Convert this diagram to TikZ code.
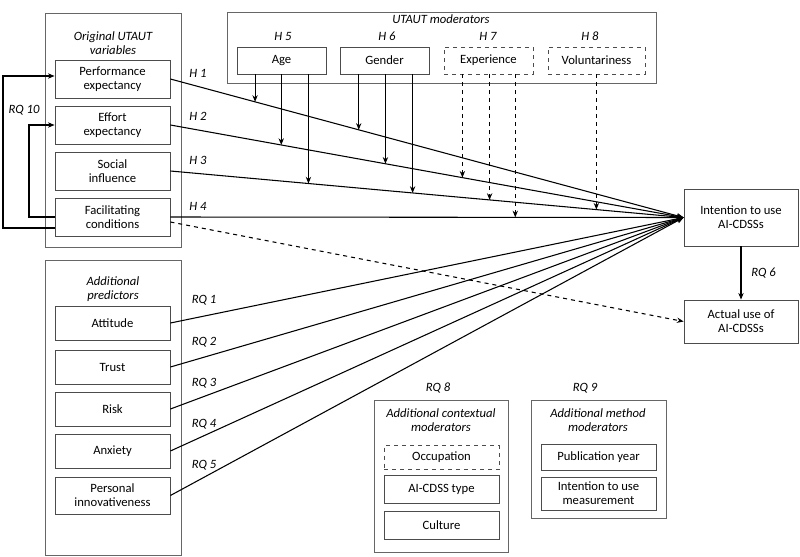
\documentclass[tikz,border=0pt]{standalone}
\usepackage{fontspec}
\setmainfont{Carlito}
\usetikzlibrary{arrows.meta}
\begin{document}
\begin{tikzpicture}[x=0.75pt,y=-0.75pt,font=\fontsize{9.5}{10.5}\selectfont,
  grp/.style={draw=black!60,line width=0.6pt},
  bx/.style={draw=black!70,line width=0.6pt,align=center,inner sep=0pt},
  dbx/.style={bx,dashed},
  lab/.style={font=\fontsize{9.5}{10.5}\selectfont\itshape,align=center},
  ar/.style={-{Stealth[length=5pt,width=4pt]},line width=0.8pt},
  dar/.style={ar,dashed}]
\useasboundingbox (0,0) rectangle (800,557);
% groups
\draw[grp] (45,13) rectangle (181,247);
\node[lab] at (113,43) {Original UTAUT\\variables};
\draw[grp] (227,12) rectangle (656,83);
\node[lab] at (441,19) {UTAUT moderators};
\draw[grp] (45,260) rectangle (181,555);
\node[lab] at (113,289) {Additional\\predictors};
\draw[grp] (374,400) rectangle (508,552);
\node[lab] at (441,420) {Additional contextual\\moderators};
\draw[grp] (531,400) rectangle (666,518);
\node[lab] at (598,420) {Additional method\\moderators};
% UTAUT vars
\node[bx,minimum width=86.25pt,minimum height=28.5pt] (pe) at (112.5,79) {Performance\\expectancy};
\node[bx,minimum width=86.25pt,minimum height=28.5pt] (ee) at (112.5,125) {Effort\\expectancy};
\node[bx,minimum width=86.25pt,minimum height=28.5pt] (si) at (112.5,171) {Social\\influence};
\node[bx,minimum width=86.25pt,minimum height=28.5pt] (fc) at (112.5,217) {Facilitating\\conditions};
% moderators
\node[bx,minimum width=66.75pt,minimum height=20.25pt] (age) at (281.5,60.5) {Age};
\node[bx,minimum width=66.75pt,minimum height=20.25pt] (gen) at (384.5,60.5) {Gender};
\node[dbx,minimum width=66.75pt,minimum height=20.25pt] (exp) at (488.5,60.5) {Experience};
\node[dbx,minimum width=72.75pt,minimum height=20.25pt] (vol) at (596.5,60.5) {Voluntariness};
\node[lab] at (283,36) {H 5};
\node[lab] at (387,36) {H 6};
\node[lab] at (488,36) {H 7};
\node[lab] at (590,36) {H 8};
% outcomes
\node[bx,minimum width=85.5pt,minimum height=42.75pt] (int) at (741,217.5) {Intention to use\\AI-CDSSs};
\node[bx,minimum width=85.5pt,minimum height=32.25pt] (act) at (741,321.5) {Actual use of\\AI-CDSSs};
\draw[ar] (int) -- (act) node[midway,right=4pt,lab]{RQ 6};
% predictors
\foreach \n/\t/\y/\h in {att/Attitude/323/25.5pt,tru/Trust/367/25.5pt,ris/Risk/409/25.5pt,anx/Anxiety/451/25.5pt,inn/{Personal\\innovativeness}/495.5/27.75pt}
  \node[bx,minimum width=86.25pt,minimum height=\h] (\n) at (112.5,\y) {\t};
% context
\node[dbx,minimum width=86.25pt,minimum height=18pt] (occ) at (441.5,457.5) {Occupation};
\node[bx,minimum width=86.25pt,minimum height=21pt] (typ) at (441.5,489) {AI-CDSS type};
\node[bx,minimum width=86.25pt,minimum height=21pt] (cul) at (441.5,525) {Culture};
\node[bx,minimum width=86.25pt,minimum height=19.5pt] (pub) at (598.5,457) {Publication year};
\node[bx,minimum width=86.25pt,minimum height=24.75pt] (mea) at (598.5,493.5) {Intention to use\\measurement};
\node[lab] at (438,388) {RQ 8};
\node[lab] at (585,388) {RQ 9};
% main paths
\coordinate (T) at (int.west);
\draw[ar] (pe.east) -- (T) coordinate[pos=0.165] (pa) coordinate[pos=0.367] (pg);
\draw[ar] (ee.east) -- (T) coordinate[pos=0.216] (ea) coordinate[pos=0.419] (eg) coordinate[pos=0.569] (ex);
\draw[ar] (si.east) -- (T) coordinate[pos=0.269] (sa) coordinate[pos=0.472] (sg) coordinate[pos=0.622] (sx) coordinate[pos=0.830] (sv);
\draw[ar] (fc.east) -- (T) coordinate[pos=0.672] (fx);
\draw[dar] ([yshift=-3.75pt]fc.east) -- (act.west);
\node[lab] at (198,73) {H 1};
\node[lab] at (198,116) {H 2};
\node[lab] at (198,160) {H 3};
\node[lab] at (198,206) {H 4};
\foreach \n in {att,tru,ris,anx,inn} \draw[ar] (\n.east) -- (T);
\node[lab] at (204,300) {RQ 1};
\node[lab] at (204,342) {RQ 2};
\node[lab] at (204,383) {RQ 3};
\node[lab] at (204,424) {RQ 4};
\node[lab] at (204,465) {RQ 5};
% moderator arrows
\draw[ar] (pa |- age.south) -- (pa);
\draw[ar] (ea |- age.south) -- (ea);
\draw[ar] (sa |- age.south) -- (sa);
\draw[ar] (pg |- gen.south) -- (pg);
\draw[ar] (eg |- gen.south) -- (eg);
\draw[ar] (sg |- gen.south) -- (sg);
\draw[dar] (ex |- exp.south) -- (ex);
\draw[dar] (sx |- exp.south) -- (sx);
\draw[dar] (fx |- exp.south) -- (fx);
\draw[dar] (sv |- vol.south) -- (sv);
% RQ10
\coordinate (r1) at (3,0); \coordinate (r2) at (29,0);
\draw[ar] ([yshift=-8.25pt]fc.west) -- ([yshift=-8.25pt]fc.west -| r1) -- ([yshift=2.25pt]pe.west -| r1) -- ([yshift=2.25pt]pe.west);
\draw[ar] (fc.west) -- (fc.west -| r2) -- (ee.west -| r2) -- (ee.west);
\node[lab] at (24,110) {RQ 10};
\end{tikzpicture}
\end{document}
